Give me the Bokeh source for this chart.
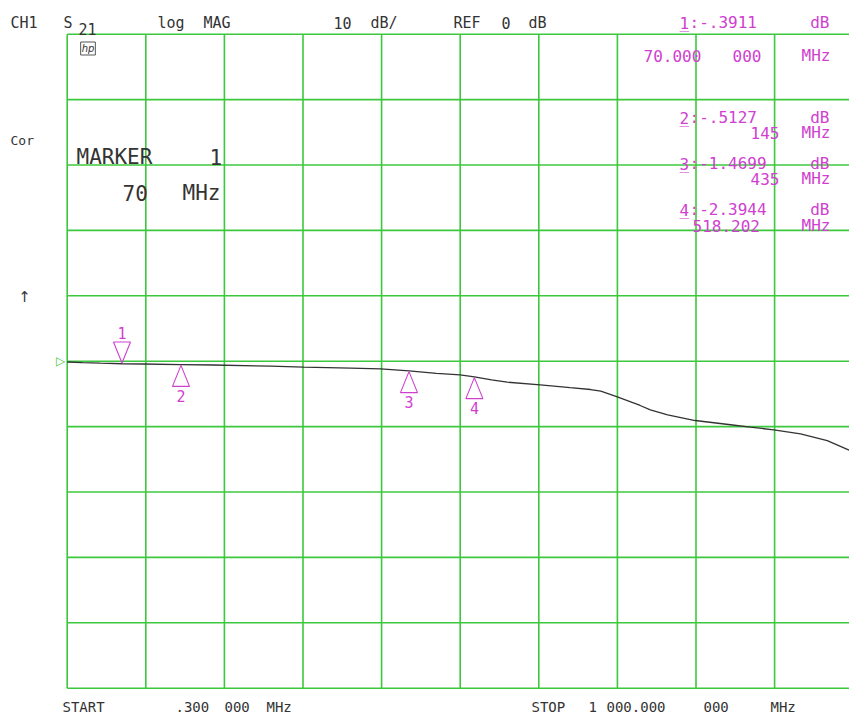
from bokeh.plotting import figure
from bokeh.models import Label, Range1d
from bokeh.core.properties import value
from bokeh.embed import file_html
from bokeh.resources import INLINE

# ---------------- data ----------------
START_MHZ = 0.3
STOP_MHZ = 1000.0
REF_DB = 0.0
DB_PER_DIV = 10.0
N_DIV = 10

FREQ_MHZ = [0.3, 20.0, 42.7, 70.0, 97.0, 145.0, 186.0, 259.0, 301.0, 361.0, 399.0,
            435.0, 470.0, 500.0, 518.202, 540.0, 560.0, 602.0, 640.0, 666.0, 679.0,
            700.0, 729.0, 742.0, 764.0, 799.0, 844.0, 869.0, 899.0, 933.0, 967.0,
            994.0, 1000.0]
S21_DB = [-0.12, -0.22, -0.30, -0.3911, -0.43, -0.5127, -0.58, -0.76, -0.92, -1.07, -1.18,
          -1.4699, -1.85, -2.08, -2.3944, -2.85, -3.21, -3.61, -4.05, -4.33, -4.59,
          -5.47, -6.77, -7.43, -8.20, -9.07, -9.72, -10.09, -10.49, -11.10, -12.13,
          -13.55, -13.90]

MARKER_ID = ["1", "2", "3", "4"]
MARKER_FREQ_MHZ = [70.0, 145.0, 435.0, 518.202]
MARKER_DB = [-0.3911, -0.5127, -1.4699, -2.3944]
READOUT_VAL = [":-.3911", ":-.5127", ":-1.4699", ":-2.3944"]
READOUT_F = [["70.000", "000"], ["145"], ["435"], ["518.202"]]

# ---------------- style / geometry ----------------
GREEN = "#3cc83c"
MAGENTA = "#d040d0"
INK = "#333333"
FONT = "DejaVu Sans Mono"

W, H = 849, 717
GRAT_LEFT_PX = 66.7     # left edge of graticule on the canvas
REF_PX = 360.7          # reference line position
PX_PER_MHZ = 786.0 / (STOP_MHZ - START_MHZ)
PX_PER_DB = 65.4 / DB_PER_DIV


def xd(px):
    return START_MHZ + (px - GRAT_LEFT_PX) / PX_PER_MHZ


def yd(py):
    return REF_DB + (REF_PX - py) / PX_PER_DB


p = figure(width=W, height=H, output_backend="svg", toolbar_location=None,
           x_range=Range1d(xd(0), xd(W)), y_range=Range1d(yd(H), yd(0)),
           min_border=0)
p.xaxis.visible = False
p.yaxis.visible = False
p.xgrid.visible = False
p.ygrid.visible = False
p.outline_line_color = None
p.background_fill_color = "white"
p.border_fill_color = "white"

# graticule
xt = [START_MHZ + k * (STOP_MHZ - START_MHZ) / N_DIV for k in range(N_DIV + 1)]
yt = [REF_DB + k * DB_PER_DIV for k in range(-N_DIV // 2, N_DIV // 2 + 1)]
ybot, ytop = yt[0], yt[-1]
p.segment(x0=xt, y0=[ybot] * len(xt), x1=xt, y1=[ytop] * len(xt),
          line_color=GREEN, line_width=1.6)
p.segment(x0=[START_MHZ] * len(yt), y0=yt, x1=[STOP_MHZ] * len(yt), y1=yt,
          line_color=GREEN, line_width=1.6)

# trace
p.line(FREQ_MHZ, S21_DB, line_color=INK, line_width=1.3)

# marker triangles
hw = 8.5 / PX_PER_MHZ
th = 21.0 / PX_PER_DB
gap = 0.8 / PX_PER_DB
lab_off = 31.0 / PX_PER_DB
xs, ys, lx, ly = [], [], [], []
for i, (f, d) in enumerate(zip(MARKER_FREQ_MHZ, MARKER_DB)):
    xs.append([f - hw, f + hw, f])
    if i == 0:  # active marker: inverted, above the trace
        ys.append([d + gap + th, d + gap + th, d + gap])
        ly.append(d + lab_off)
    else:
        ys.append([d - gap - th, d - gap - th, d - gap])
        ly.append(d - lab_off)
    lx.append(f)
p.patches(xs, ys, fill_color=None, line_color=MAGENTA, line_width=1.1)
p.text(lx, ly, text=MARKER_ID, text_color=MAGENTA, text_font=value(FONT),
       text_font_size="15px", text_align="center", text_baseline="middle")


# ---------------- annotation texts ----------------
def lab(text, px, py, color=INK, size="15px", align="left", baseline="alphabetic",
        font=FONT, style="normal", **kw):
    p.add_layout(Label(x=xd(px), y=yd(py), text=text, text_color=color,
                       text_font_size=size, text_align=align,
                       text_baseline=baseline, text_font=font,
                       text_font_style=style, **kw))


# header line
lab("CH1", 10, 22)
lab("S", 63, 22)
lab("21", 78, 28)
lab("log", 157, 22)
lab("MAG", 203, 22)
lab("10", 333, 22)
lab("dB/", 370, 22)
lab("REF", 453, 22)
lab("0", 501, 22)
lab("dB", 528, 22)

# left side
lab("Cor", 10, 140, size="13px")
lab("MARKER", 76, 156, size="21px")
lab("1", 209, 156, size="21px")
lab("70", 122, 192, size="21px")
lab("MHz", 182, 192, size="21px")
lab("\u2191", 24, 296, size="15px", align="center", font="DejaVu Sans")
lab("\u25b7", 60, REF_PX, color=GREEN, size="12px", align="center",
    baseline="middle", font="DejaVu Sans")
lab("hp", 87.5, 48, size="10px", align="center", baseline="middle",
    font="DejaVu Sans", style="italic", border_line_color="#555555",
    padding=1)

# marker readouts (magenta, right column)
rd_base = [22, 117, 163, 209]
rf_base = [55, 132, 178, 225]
for mid, t, b in zip(MARKER_ID, READOUT_VAL, rd_base):
    lab(mid, 679, b, color=MAGENTA, size="16px")
    lab("_", 679, b, color=MAGENTA, size="16px")
    lab(t, 689, b, color=MAGENTA, size="16px")
    lab("dB", 829, b, color=MAGENTA, size="16px", align="right")
f_start = [[643, 732], [750], [750], [692]]
for words, xs_w, b in zip(READOUT_F, f_start, rf_base):
    for wd, xw in zip(words, xs_w):
        lab(wd, xw, b, color=MAGENTA, size="16px")
    lab("MHz", 830, b, color=MAGENTA, size="16px", align="right")

# footer
FOOT = 706
lab("START", 62, FOOT, size="14px")
lab(".300", 175, FOOT, size="14px")
lab("000", 224, FOOT, size="14px")
lab("MHz", 266, FOOT, size="14px")
lab("STOP", 531, FOOT, size="14px")
lab("1", 588, FOOT, size="14px")
lab("000.000", 606, FOOT, size="14px")
lab("000", 703, FOOT, size="14px")
lab("MHz", 770, FOOT, size="14px")

open("out.html", "w").write(file_html(p, INLINE))
